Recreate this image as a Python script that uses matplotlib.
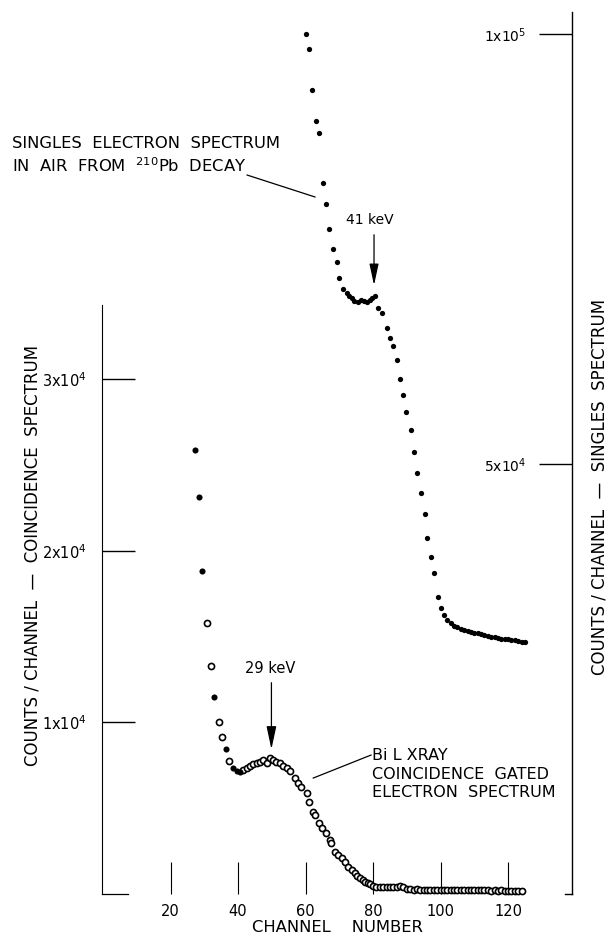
"""Espectro de electrones 210Pb: singles y coincidencia Bi L XRAY."""
import numpy as np
import matplotlib
matplotlib.use('Agg')
import matplotlib.pyplot as plt

# ---------------------------------------------------------------------------
# Datos
# ---------------------------------------------------------------------------
# Singles (escala derecha)
sing_ch = [60.0, 61.1, 62.0, 63.1, 64.1, 65.2, 66.1, 67.1, 68.0, 69.2, 70.0,
           71.2, 72.2, 73.0, 73.7, 74.5, 75.5, 76.4, 77.3, 78.1, 79.0, 79.8,
           80.5, 81.5, 82.6, 84.0, 85.0, 86.0, 87.0, 88.0, 89.0, 89.9, 91.2,
           92.1, 93.1, 94.2, 95.3, 96.1, 97.2, 98.1, 99.2,
           100, 101, 102, 103, 104, 105, 106, 107, 108, 109, 110, 111, 112,
           113, 114, 115, 116, 117, 118, 119, 120, 121, 122, 123, 124, 125]
sing_val = [100000, 98300, 93500, 89900, 88500, 82700, 80200, 77300, 75000,
            73500, 71600,
            70400, 69900, 69500, 69300, 69000, 68800, 69100, 69000, 68800,
            69100, 69300, 69500, 68100, 67500, 65800, 64700, 63700, 62100,
            59900, 58000, 56100, 54000, 51400, 48900, 46600, 44200, 41400,
            39200, 37300, 34500,
            33200, 32400, 31900, 31500, 31200, 31000, 30800, 30700, 30600,
            30500, 30400, 30300, 30200, 30100, 30000, 29900, 29900, 29800,
            29700, 29700, 29600, 29500, 29500, 29400, 29300, 29300]

# Coincidencia (escala izquierda) - puntos llenos
coin_fill_ch = [27.3, 28.4, 29.4, 33.0, 36.3, 38.4, 39.6, 40.6]
coin_fill_val = [25900, 23150, 18850, 11500, 8430, 7320, 7190, 7130]

# Coincidencia - puntos abiertos
coin_open_ch = [30.7, 31.9, 34.3, 35.2, 37.2, 41.6, 42.6, 43.6, 44.5, 45.5,
                46.5, 47.5, 48.5, 49.5, 50.5, 51.4, 52.4, 53.4, 54.4, 55.4,
                56.9, 57.9, 58.8, 60.3, 61.1, 62.3, 62.8, 64.1, 65.0, 66.1,
                67.3, 67.7, 68.7, 69.7, 70.7, 71.7, 72.7, 73.7, 74.7, 75.4,
                76.1, 76.9, 77.6, 78.4, 79.1, 80.1,
                81, 82, 83, 84, 85, 86, 87, 88, 89, 90, 91, 92, 93, 94, 95,
                96, 97, 98, 99, 100, 101, 102, 103, 104, 105, 106, 107, 108,
                109, 110, 111, 112, 113, 114, 115, 116, 117, 118, 119, 120,
                121, 122, 123, 124]
coin_open_val = [15780, 13310, 10050, 9170, 7750, 7230, 7320, 7460, 7580,
                 7650, 7710, 7810, 7650, 7910, 7810, 7710, 7650, 7460, 7320,
                 7190, 6740, 6490, 6220, 5870, 5380, 4800, 4610, 4120, 3850,
                 3570, 3150, 2960, 2470, 2270, 2110, 1880, 1590, 1400, 1210,
                 1060, 920, 820, 720, 640, 570, 470,
                 430, 410, 390, 380, 400, 390, 420, 440, 380, 300, 280, 260,
                 270, 250, 260, 240, 250, 240, 250, 230, 240, 230, 240, 230,
                 220, 230, 220, 230, 220, 210, 220, 210, 220, 210, 200, 210,
                 200, 210, 200, 200, 190, 200, 190, 190]

x_ticks = [20, 40, 60, 80, 100, 120]
left_ticks = [1e4, 2e4, 3e4]
left_labels = ['1x10$^4$', '2x10$^4$', '3x10$^4$']
right_ticks = [5e4, 1e5]
right_labels = ['5x10$^4$', '1x10$^5$']

plt.rcParams.update({'font.family': 'DejaVu Sans', 'font.size': 10,
                     'mathtext.default': 'regular'})

W, H = 609, 934
fig = plt.figure(figsize=(W / 100, H / 100), dpi=100)

# ejes: borde izquierdo x=102px, derecho x=572px, cero y=894px, tope y=12px
ax = fig.add_axes([102 / W, (H - 894) / H, 470 / W, 882 / H])
ax.set_xlim(-0.3, 138.96)
ax.set_ylim(0, 51420)
ax2 = ax.twinx()
ax2.set_ylim(0, 102558)

for a in (ax, ax2):
    for s in a.spines.values():
        s.set_visible(False)
    a.patch.set_alpha(0)

ax.spines['left'].set_visible(True)
ax.spines['left'].set_bounds(0, 34340)
ax.spines['left'].set_linewidth(0.8)
ax.spines['bottom'].set_visible(True)
ax.spines['bottom'].set_bounds(-0.3, 7.5)
ax.spines['bottom'].set_linewidth(0.9)
ax2.spines['right'].set_visible(True)
ax2.spines['right'].set_linewidth(1.0)
ax2.axhline(0, xmin=0.985, xmax=1.0, color='black', lw=1.0, clip_on=False)

# ticks
ax.set_xticks(x_ticks)
ax.tick_params(axis='x', direction='in', length=23, width=0.8, pad=7,
               labelsize=10.5)
ax.set_yticks(left_ticks)
ax.set_yticklabels(left_labels)
ax.tick_params(axis='y', direction='in', length=24, width=1.0, pad=11,
               labelsize=10.5)
ax2.set_yticks(right_ticks)
ax2.set_yticklabels(right_labels)
ax2.tick_params(axis='y', direction='in', length=24, width=1.0, pad=-33,
                labelsize=10)
plt.setp(ax2.get_yticklabels(), ha='right')

# datos
ax2.plot(sing_ch, sing_val, 'o', color='black', ms=3.8, mew=0,
         clip_on=False, zorder=3)
ax.plot(coin_open_ch, coin_open_val, 'o', mfc='white', mec='black', ms=4.4,
        mew=1.2, clip_on=False, zorder=3)
ax.plot(coin_fill_ch, coin_fill_val, 'o', color='black', ms=4.4, mew=0,
        clip_on=False, zorder=3)

# flechas y etiquetas de picos
ax2.annotate('', xy=(80.3, 70470), xytext=(80.3, 76980),
             arrowprops=dict(arrowstyle='-|>,head_length=1.3,head_width=0.28',
                             color='black', lw=0.9))
ax2.text(79.1, 78370, '41 keV', ha='center', va='center', fontsize=10)
ax.annotate('', xy=(49.9, 8280), xytext=(49.9, 12480),
            arrowprops=dict(arrowstyle='-|>,head_length=1.4,head_width=0.3',
                            color='black', lw=0.9))
ax.text(49.5, 13120, '29 keV', ha='center', va='center', fontsize=10.5)

# rotulos de curvas con lineas guia
fig.text(12 / W, 1 - 143 / H, 'SINGLES  ELECTRON  SPECTRUM', ha='left',
         va='center', fontsize=11.8)
fig.text(12 / W, 1 - 166 / H, 'IN  AIR  FROM  $^{210}$Pb  DECAY', ha='left',
         va='center', fontsize=11.8)
ax2.plot([42.7, 62.8], [83600, 81050], color='black', lw=0.9, clip_on=False)

ax.text(79.7, 8500, 'Bi L XRAY\nCOINCIDENCE  GATED\nELECTRON  SPECTRUM',
        ha='left', va='top', fontsize=11.5, linespacing=1.3)
ax.plot([62.3, 79.4], [6760, 8100], color='black', lw=0.9)

# titulos de ejes
ax.set_xlabel('CHANNEL    NUMBER', fontsize=11.8, labelpad=1)
fig.text(33 / W, 1 - 555 / H, 'COUNTS / CHANNEL  —  COINCIDENCE  SPECTRUM',
         rotation=90, ha='center', va='center', fontsize=12)
fig.text(599 / W, 1 - 487 / H, 'COUNTS / CHANNEL  —  SINGLES  SPECTRUM',
         rotation=90, ha='center', va='center', fontsize=12)

fig.savefig('out.png', dpi=100, facecolor='white')
print("Figura generada")
